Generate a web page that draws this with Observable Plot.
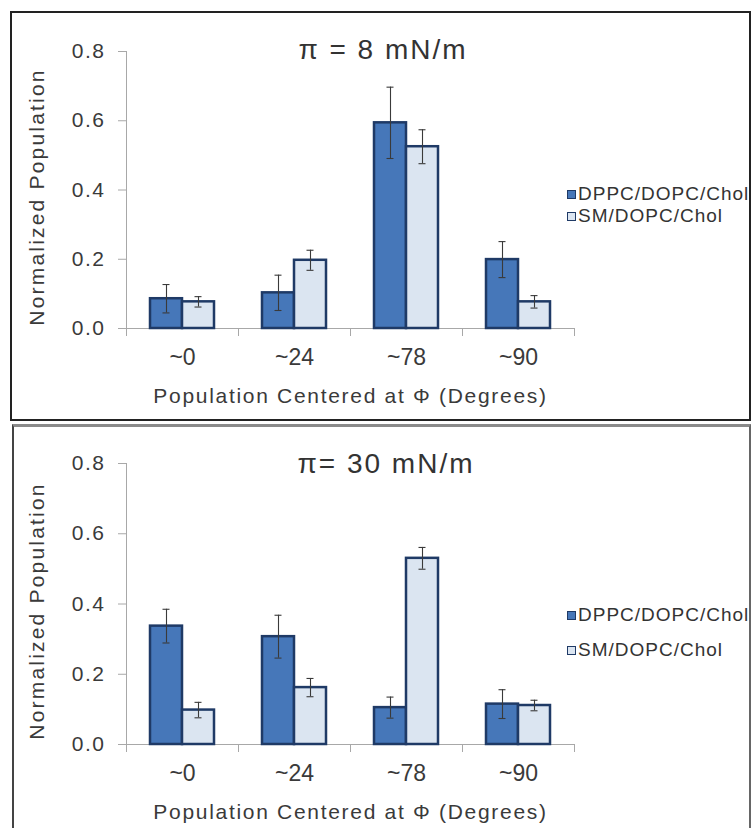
<!DOCTYPE html>
<html>
<head>
<meta charset="utf-8">
<script src="https://cdn.jsdelivr.net/npm/d3@7"></script>
<script src="https://cdn.jsdelivr.net/npm/@observablehq/plot@0.6"></script>
<style>
  html, body { margin: 0; padding: 0; background: #fff; }
  body { width: 751px; height: 828px; overflow: hidden; position: relative;
         font-family: "Liberation Sans", Arial, sans-serif; color: #3a3a3a; }
  .panel { position: absolute; box-sizing: border-box; }
  #p1 { left: 10px; top: 11px; width: 741px; height: 410px; border: 2px solid #222; }
  #p2 { left: 12px; top: 424px; width: 739px; height: 420px;
        border-top: 3px solid #8a8a8a; border-left: 2px solid #444; border-right: 2px solid #666; }
  .chart { position: absolute; left: 0; }
  .title { position: absolute; font-size: 28px; line-height: 28px; letter-spacing: 2px;
           text-align: center; width: 300px; color: #333; white-space: nowrap; }
  .legend { position: absolute; left: 567px; font-size: 19px; line-height: 20px; letter-spacing: 1px;
            color: #333; white-space: nowrap; }
  .legend .item { position: absolute; left: 0; display: flex; align-items: center; }
  .legend .sw { display: inline-block; width: 7px; height: 7px; border: 1px solid #1f3a66; margin-right: 2px; }
  svg [aria-label="y-axis tick label"] { letter-spacing: 1.5px; }
  svg [aria-label="y-axis label"] { letter-spacing: 2.2px; font-size: 21px; }
  svg [aria-label="y-axis label"] text { translate: 0px 7px; }
  svg [aria-label="fx-axis label"] { letter-spacing: 1.7px; font-size: 21px; }
</style>
</head>
<body>
<div class="panel" id="p1"></div>
<div class="panel" id="p2"></div>
<div class="chart" id="c1" style="top:0px"></div>
<div class="chart" id="c2" style="top:414px"></div>
<div class="title" style="left:233px; top:36px">π = 8 mN/m</div>
<div class="title" style="left:236px; top:450px">π= 30 mN/m</div>
<div class="legend" id="lg1" style="top:0px"></div>
<div class="legend" id="lg2" style="top:0px"></div>
<script>
// ---- data ----
const categories = ["~0", "~24", "~78", "~90"];
const series = ["DPPC/DOPC/Chol", "SM/DOPC/Chol"];
const yTicks = [0, 0.2, 0.4, 0.6, 0.8];

// π = 8 mN/m
const dppc8 = [0.086, 0.103, 0.594, 0.199];
const dppc8Err = [0.041, 0.051, 0.103, 0.052];
const sm8 = [0.077, 0.197, 0.525, 0.077];
const sm8Err = [0.015, 0.029, 0.049, 0.018];

// π = 30 mN/m
const dppc30 = [0.337, 0.307, 0.105, 0.115];
const dppc30Err = [0.048, 0.061, 0.030, 0.041];
const sm30 = [0.098, 0.162, 0.530, 0.111];
const sm30Err = [0.022, 0.026, 0.031, 0.015];

const colors = ["#4677b9", "#dbe5f1"];

function rows(a, aErr, b, bErr) {
  return categories.flatMap((c, i) => [
    {cat: c, series: series[0], value: a[i], err: aErr[i]},
    {cat: c, series: series[1], value: b[i], err: bErr[i]}
  ]);
}

function chart(data, mt, mb) {
  const H = 414;
  const plotH = H - mt - mb;
  const axisGray = "#a8a8a8";
  const errColor = "#3a3a3a";
  return Plot.plot({
    width: 751, height: H,
    marginLeft: 125, marginRight: 176, marginTop: mt, marginBottom: mb,
    style: {background: "transparent", fontFamily: "'Liberation Sans', Arial, sans-serif", color: "#3a3a3a"},
    fx: {domain: categories, padding: 0},
    x: {domain: series, paddingInner: 0, paddingOuter: 0.73, axis: null},
    y: {domain: [0, 0.8]},
    color: {domain: series, range: colors},
    marks: [
      Plot.frame({anchor: "left", facetAnchor: "left", stroke: axisGray}),
      Plot.frame({anchor: "left", stroke: axisGray, insetTop: plotH, insetBottom: -7}),
      Plot.frame({anchor: "right", stroke: axisGray, insetTop: plotH, insetBottom: -7}),
      Plot.ruleY([0], {stroke: axisGray}),
      Plot.barY(data, {fx: "cat", x: "series", y: "value", fill: "series", stroke: "#1f3a66", strokeWidth: 2.5}),
      Plot.ruleX(data, {fx: "cat", x: "series", y1: d => d.value - d.err, y2: d => d.value + d.err, stroke: errColor, strokeWidth: 1.1}),
      Plot.tickY(data, {fx: "cat", x: "series", y: d => d.value - d.err, insetLeft: 12.5, insetRight: 12.5, stroke: errColor, strokeWidth: 1.1}),
      Plot.tickY(data, {fx: "cat", x: "series", y: d => d.value + d.err, insetLeft: 12.5, insetRight: 12.5, stroke: errColor, strokeWidth: 1.1}),
      Plot.axisY({ticks: yTicks, tickFormat: d3.format(".1f"), tickSize: 8, tickPadding: 13, fontSize: 21,
                  stroke: axisGray, fill: "#3a3a3a",
                  label: "Normalized Population", labelAnchor: "center", labelArrow: "none", labelOffset: 97}),
      Plot.axisFx({anchor: "bottom", tickSize: 0, tickPadding: 20, fontSize: 23, fill: "#3a3a3a",
                   label: "Population Centered at Φ (Degrees)", labelAnchor: "center", labelArrow: "none", labelOffset: 74})
    ]
  });
}

document.getElementById("c1").append(chart(rows(dppc8, dppc8Err, sm8, sm8Err), 51, 86));
document.getElementById("c2").append(chart(rows(dppc30, dppc30Err, sm30, sm30Err), 49, 84));

function legend(id, tops) {
  const el = document.getElementById(id);
  series.forEach((s, i) => {
    const item = document.createElement("div");
    item.className = "item";
    item.style.top = tops[i] + "px";
    const sw = document.createElement("span");
    sw.className = "sw";
    sw.style.background = colors[i];
    item.append(sw, document.createTextNode(s));
    el.append(item);
  });
}
legend("lg1", [184, 206]);
legend("lg2", [605, 640]);
</script>
</body>
</html>
